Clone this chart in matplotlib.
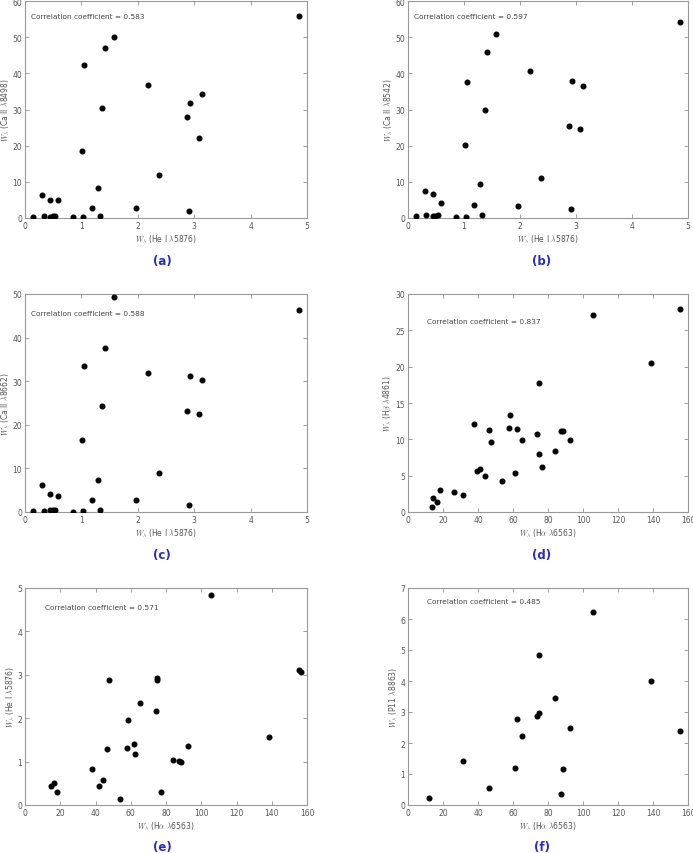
import numpy as np
import matplotlib
matplotlib.use("Agg")
import matplotlib.pyplot as plt

plt.rcParams['mathtext.fontset'] = 'cm'

# ---------------------- data ----------------------
he5876 = [0.15, 0.31, 0.33, 0.44, 0.45, 0.49, 0.53, 0.59, 0.85, 1.01, 1.03, 1.05, 1.18, 1.29,
          1.33, 1.37, 1.41, 1.57, 1.96, 2.18, 2.37, 2.88, 2.91, 2.93, 3.08, 3.13, 4.86]
ca8498 = [0.4, 6.3, 0.5, 4.9, 0.3, 0.5, 0.6, 4.9, 0.3, 18.4, 0.2, 42.2, 2.9, 8.4,
          0.6, 30.4, 47.0, 50.0, 2.9, 36.8, 12.0, 27.8, 1.8, 31.8, 22.2, 34.4, 55.8]
ca8542 = [0.5, 7.6, 0.8, 6.5, 0.6, 0.6, 0.7, 4.1, 0.4, 20.1, 0.4, 37.6, 3.5, 9.5,
          0.8, 29.9, 45.9, 50.8, 3.3, 40.6, 11.0, 25.5, 2.5, 37.9, 24.7, 36.4, 54.3]
ca8662 = [0.2, 6.1, 0.2, 4.1, 0.5, 0.5, 0.5, 3.6, 0.1, 16.5, 0.2, 33.5, 2.8, 7.3,
          0.4, 24.3, 37.7, 49.2, 2.7, 31.9, 9.0, 23.2, 1.7, 31.3, 22.4, 30.2, 46.3]

ha_d = [13.9, 14.3, 16.3, 18.1, 26.0, 31.4, 37.6, 39.7, 41.4, 44.1, 46.4, 47.5, 53.6, 57.8, 58.3,
        61.4, 62.1, 65.2, 73.9, 74.9, 74.9, 76.8, 84.0, 87.2, 88.6, 92.5, 105.8, 138.7, 155.6]
hb4861 = [0.64, 1.9, 1.4, 3.0, 2.7, 2.3, 12.1, 5.7, 5.9, 5.0, 11.3, 9.6, 4.3, 11.5, 13.3,
          5.4, 11.4, 9.9, 10.8, 17.8, 8.0, 6.2, 8.4, 11.1, 11.2, 9.9, 27.1, 20.5, 27.9]

ha_e = [14.6, 16.7, 18.4, 37.9, 41.9, 44.3, 46.6, 47.5, 53.8, 58.0, 58.5, 61.6, 62.3,
        65.5, 74.2, 75.0, 75.0, 76.9, 83.9, 87.3, 88.6, 92.6, 105.7, 138.4, 155.5, 156.4]
he_e = [0.44, 0.51, 0.31, 0.84, 0.43, 0.58, 1.28, 2.89, 0.14, 1.31, 1.96, 1.40, 1.17,
        2.35, 2.17, 2.92, 2.87, 0.29, 1.03, 1.02, 0.99, 1.37, 4.85, 1.56, 3.12, 3.07]

ha_f = [12.2, 31.4, 46.4, 61.4, 62.1, 65.2, 73.9, 74.9, 74.9, 84.0, 87.2, 88.6, 92.5,
        105.8, 138.7, 155.6]
p8863 = [0.22, 1.41, 0.54, 1.18, 2.77, 2.24, 2.86, 2.97, 4.84, 3.46, 0.34, 1.16, 2.49,
         6.22, 4.01, 2.39]

corr = ['0.583', '0.597', '0.588', '0.837', '0.571', '0.485']
tags = ['(a)', '(b)', '(c)', '(d)', '(e)', '(f)']

xlab_he = r'$W_\lambda$ (He I $\lambda$5876)'
xlab_ha = r'$W_\lambda$ (H$\alpha$ $\lambda$6563)'

panels = [
    (he5876, ca8498, xlab_he, r'$W_\lambda$ (Ca II $\lambda$8498)', (0, 5), (0, 60), (0.02, 0.93)),
    (he5876, ca8542, xlab_he, r'$W_\lambda$ (Ca II $\lambda$8542)', (0, 5), (0, 60), (0.02, 0.93)),
    (he5876, ca8662, xlab_he, r'$W_\lambda$ (Ca II $\lambda$8662)', (0, 5), (0, 50), (0.02, 0.913)),
    (ha_d, hb4861, xlab_ha, r'$W_\lambda$ (H$\beta$ $\lambda$4861)', (0, 160), (0, 30), (0.068, 0.876)),
    (ha_e, he_e, xlab_ha, r'$W_\lambda$ (He I $\lambda$5876)', (0, 160), (0, 5), (0.071, 0.912)),
    (ha_f, p8863, xlab_ha, r'$W_\lambda$ (P11 $\lambda$8863)', (0, 160), (0, 7), (0.068, 0.94)),
]

# axes boxes in figure pixels (left, top, right, bottom)
W, H = 693, 854
boxes = [(25, 2, 307, 219), (408, 2, 688, 219),
         (25, 295, 307, 513), (408, 295, 688, 513),
         (25, 589, 307, 806), (408, 589, 688, 806)]
tag_y = [262, 262, 555, 555, 848, 848]
tag_x = [162, 542, 162, 542, 162, 542]

fig = plt.figure(figsize=(W / 100, H / 100), dpi=100)

for i, (x, y, xl, yl, xlim, ylim, tpos) in enumerate(panels):
    l, t, r, b = boxes[i]
    ax = fig.add_axes([l / W, 1 - b / H, (r - l) / W, (b - t) / H])
    ax.scatter(x, y, s=11, c='black', zorder=3)
    ax.set_xlim(xlim)
    ax.set_ylim(ylim)
    ax.tick_params(direction='in', top=True, right=True, labelsize=5.5,
                   labelcolor='#555555', color='#777777', length=3, width=0.5, pad=2)
    for sp in ax.spines.values():
        sp.set_color('#999999')
        sp.set_linewidth(0.8)
    ax.set_xlabel(xl, fontsize=5.5, color='#555555', labelpad=1.5)
    ax.set_ylabel(yl, fontsize=5.5, color='#555555', labelpad=1)
    ax.text(tpos[0], tpos[1], 'Correlation coefficient = ' + corr[i], transform=ax.transAxes,
            fontsize=5.3, color='#444444', va='center', ha='left')
    fig.text(tag_x[i] / W, 1 - tag_y[i] / H, tags[i], fontsize=8.5, fontweight='bold',
             color='#2a2acc', ha='center', va='center')

fig.savefig('out.png', dpi=100)
